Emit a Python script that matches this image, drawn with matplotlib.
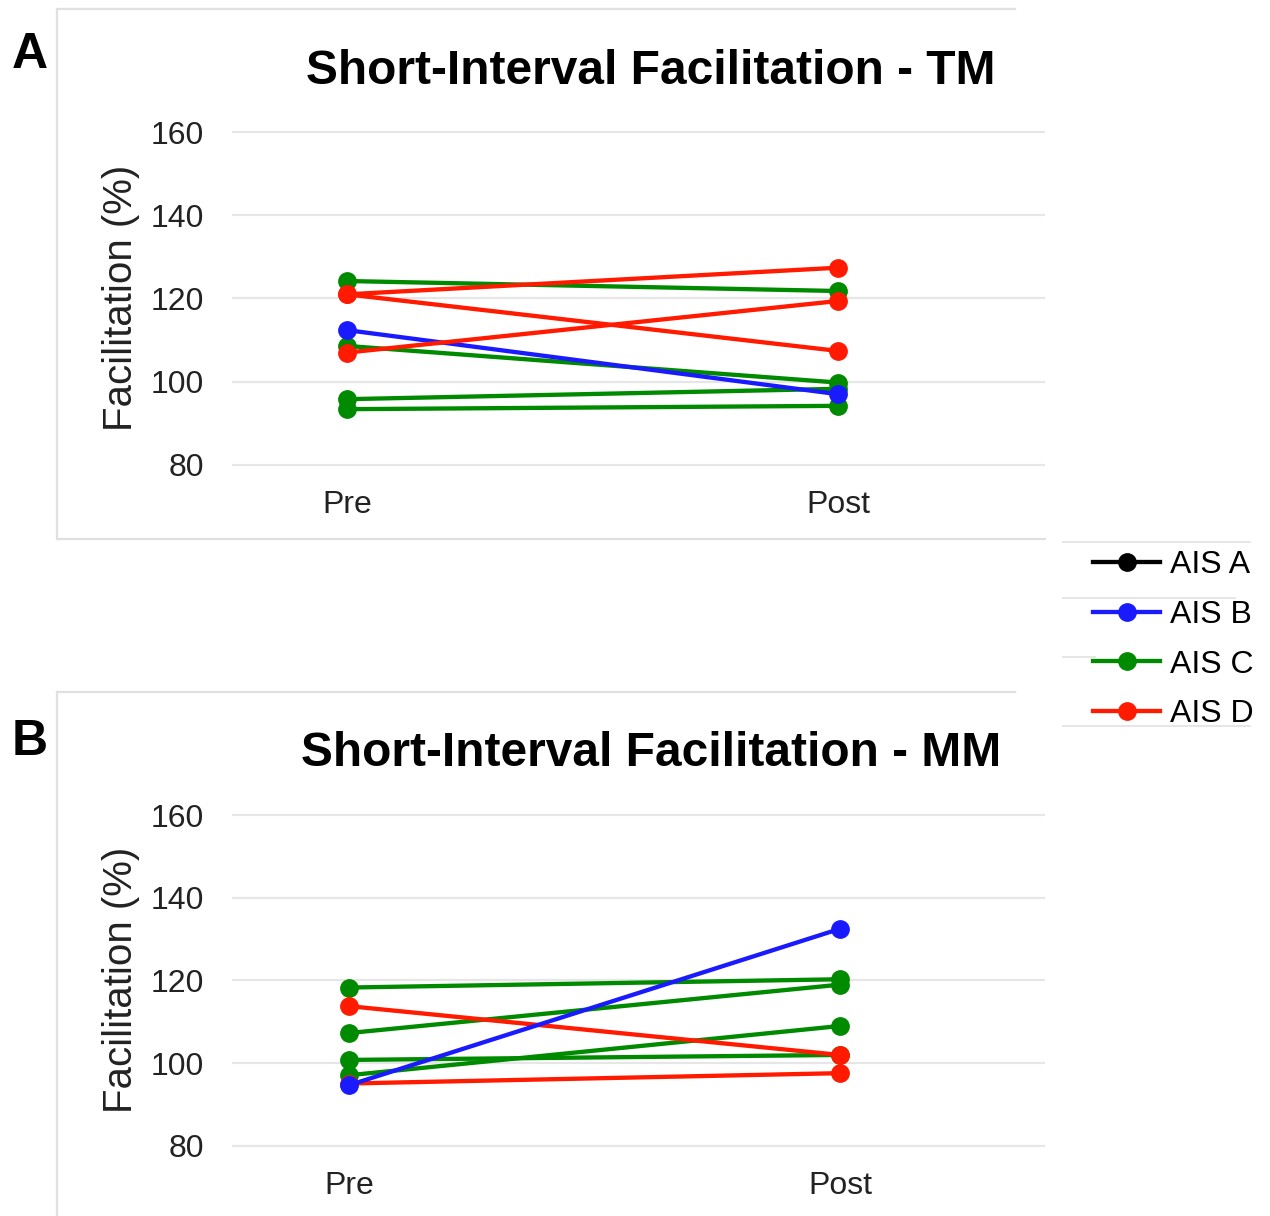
import matplotlib
matplotlib.use("Agg")
import matplotlib.pyplot as plt
from matplotlib.lines import Line2D

plt.rcParams['font.family'] = ['Liberation Sans', 'DejaVu Sans']

# ---------------- data ----------------
timepoints = ["Pre", "Post"]
groups = ["AIS A", "AIS B", "AIS C", "AIS D"]
group_colors = {"AIS A": "#000000", "AIS B": "#1a1aff", "AIS C": "#008a00", "AIS D": "#ff1a00"}

tm_group = ["AIS C", "AIS C", "AIS C", "AIS C", "AIS B", "AIS D", "AIS D", "AIS D"]
tm_pre = [124.2, 108.6, 95.8, 93.4, 112.4, 121.0, 121.0, 107.0]
tm_post = [121.8, 99.8, 98.3, 94.2, 97.0, 127.4, 107.4, 119.4]

mm_group = ["AIS C", "AIS C", "AIS C", "AIS C", "AIS D", "AIS D", "AIS B"]
mm_pre = [118.3, 107.3, 100.8, 97.1, 113.8, 95.1, 94.7]
mm_post = [120.3, 119.0, 102.0, 109.0, 102.0, 97.6, 132.5]

y_ticks = [80, 100, 120, 140, 160]
titles = ["Short-Interval Facilitation - TM", "Short-Interval Facilitation - MM"]
panel_labels = ["A", "B"]
y_label = "Facilitation (%)"

# ---------------- layout ----------------
W, H = 1270, 1216
fig = plt.figure(figsize=(W / 100, H / 100), dpi=100)


def fx(px):
    return px / W


def fy(py):
    return 1 - py / H


def make_axes(left_px, right_px, top_px, bottom_px):
    return fig.add_axes([fx(left_px), fy(bottom_px), fx(right_px - left_px),
                         (bottom_px - top_px) / H])


def draw_panel(ax, grp, pre, post, pre_px, post_px, left_px, right_px):
    # x: Pre=0, Post=1
    scale = post_px - pre_px
    ax.set_xlim((left_px - pre_px) / scale, (right_px - pre_px) / scale)
    ax.set_ylim(78.3, 161.7)
    ax.set_yticks(y_ticks)
    ax.set_yticklabels([str(t) for t in y_ticks])
    ax.set_xticks([0, 1])
    ax.set_xticklabels(timepoints)
    ax.grid(axis='y', color='#e6e6e6', linewidth=1.6)
    ax.set_axisbelow(True)
    for s in ax.spines.values():
        s.set_visible(False)
    ax.tick_params(axis='both', length=0, labelsize=23, colors='#222222')
    ax.tick_params(axis='y', pad=20)
    ax.tick_params(axis='x', pad=13)
    for g, a, b in zip(grp, pre, post):
        ax.plot([0, 1], [a, b], color=group_colors[g], linewidth=3.1,
                marker='o', markersize=12.5, solid_capstyle='round')


axA = make_axes(232, 1045, 125, 472)
draw_panel(axA, tm_group, tm_pre, tm_post, 347, 838, 232, 1045)

axB = make_axes(232, 1045, 808, 1153)
draw_panel(axB, mm_group, mm_pre, mm_post, 349, 840, 232, 1045)

# titles, panel letters, y labels
fig.text(fx(651), fy(71), titles[0], ha='center', va='center',
         fontsize=34.5, fontweight='bold')
fig.text(fx(651), fy(753), titles[1], ha='center', va='center',
         fontsize=34.5, fontweight='bold')
fig.text(fx(30), fy(55), panel_labels[0], ha='center', va='center',
         fontsize=36, fontweight='bold')
fig.text(fx(30), fy(742), panel_labels[1], ha='center', va='center',
         fontsize=36, fontweight='bold')
fig.text(fx(121), fy(298), y_label, rotation=90, ha='center', va='center',
         fontsize=29, color='#222222')
fig.text(fx(121), fy(980), y_label, rotation=90, ha='center', va='center',
         fontsize=29, color='#222222')

# panel frames
frame_c = '#e0e0e0'
fig.add_artist(Line2D([fx(57), fx(1015)], [fy(9), fy(9)], color=frame_c, lw=1.6))
fig.add_artist(Line2D([fx(57), fx(57)], [fy(9), fy(539)], color=frame_c, lw=1.6))
fig.add_artist(Line2D([fx(57), fx(1045)], [fy(539), fy(539)], color=frame_c, lw=1.6))
fig.add_artist(Line2D([fx(57), fx(1015)], [fy(692), fy(692)], color=frame_c, lw=1.6))
fig.add_artist(Line2D([fx(57), fx(57)], [fy(692), fy(1216)], color=frame_c, lw=1.6))

# legend decoration lines
for yy, x0, x1 in [(542, 1063, 1250), (598, 1063, 1235), (657, 1063, 1095), (726, 1063, 1250)]:
    fig.add_artist(Line2D([fx(x0), fx(x1)], [fy(yy), fy(yy)], color='#e6e6e6', lw=1.4))

handles = [Line2D([0], [0], color=group_colors[g], lw=3.1, marker='o', markersize=12.5)
           for g in groups]
fig.legend(handles, groups, loc='upper left', bbox_to_anchor=(fx(1093), fy(550)),
           frameon=False, fontsize=23, handlelength=2.1, handletextpad=0.3,
           labelspacing=0.62, borderpad=0, borderaxespad=0)

fig.savefig("out.png", dpi=100)
